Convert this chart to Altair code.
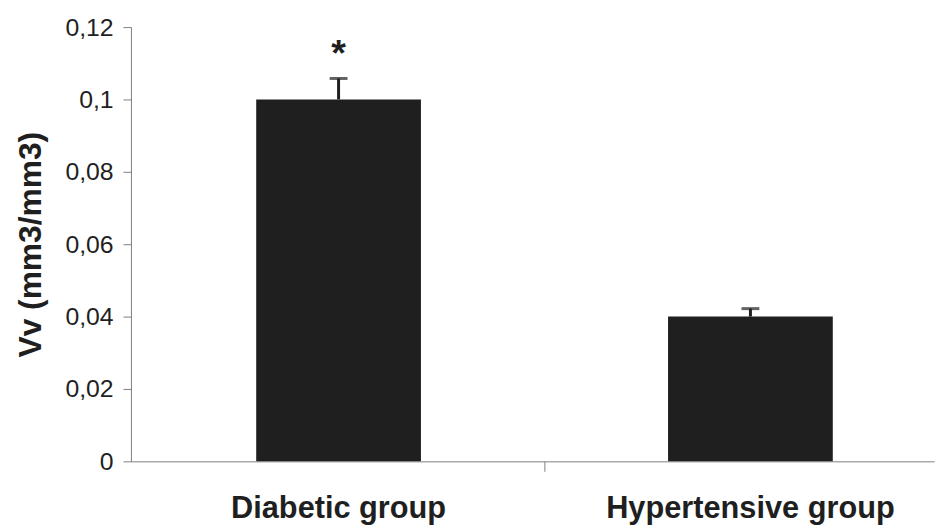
import altair as alt
import pandas as pd

groups = ["Diabetic group", "Hypertensive group"]
values = [0.100, 0.040]
errors = [0.0058, 0.0022]
marks = ["*", ""]

df = pd.DataFrame({"group": groups, "value": values, "err": errors, "sig": marks})
df["upper"] = df["value"] + df["err"]
df["zero"] = 0.0

dark = "#1f1f1f"
axis_col = "#808080"

x_scale = alt.Scale(paddingInner=0.6, paddingOuter=0.275, align=0.553)

x = alt.X(
    "group:N",
    sort=groups,
    title=None,
    scale=x_scale,
    axis=alt.Axis(
        labels=False,
        domainColor=axis_col,
        tickColor=axis_col,
        tickSize=10,
        bandPosition=1.75,
        grid=False,
    ),
)

y_scale = alt.Scale(domain=[0, 0.12], nice=False)

bars = alt.Chart(df).mark_bar(color=dark).encode(
    x=x,
    y=alt.Y(
        "value:Q",
        scale=y_scale,
        title="Vv (mm3/mm3)",
        axis=alt.Axis(
            values=[0, 0.02, 0.04, 0.06, 0.08, 0.1, 0.12],
            labelExpr="replace(format(datum.value, '~g'), '.', ',')",
            labelFont="Liberation Sans",
            labelFontSize=25,
            labelColor=dark,
            labelPadding=10,
            tickSize=8,
            tickColor=axis_col,
            domainColor=axis_col,
            grid=False,
            titleFont="Liberation Sans",
            titleFontWeight="bold",
            titleFontSize=32,
            titleColor=dark,
            titleX=-101,
            titleBaseline="middle",
        ),
    ),
)

stems = alt.Chart(df).mark_rule(color=dark, strokeWidth=3).encode(
    x=alt.X("group:N", sort=groups),
    y="value:Q",
    y2="upper:Q",
)

caps = alt.Chart(df).mark_tick(color=dark, thickness=3, size=18, orient="horizontal").encode(
    x=alt.X("group:N", sort=groups),
    y="upper:Q",
)

stars = alt.Chart(df).mark_text(
    color=dark, font="Liberation Sans", fontWeight="bold", fontSize=38, dy=-24, baseline="middle"
).encode(
    x=alt.X("group:N", sort=groups),
    y="upper:Q",
    text="sig:N",
)

cat_labels = alt.Chart(df).mark_text(
    color=dark, font="Liberation Sans", fontWeight="bold", fontSize=31, dy=57, baseline="alphabetic"
).encode(
    x=alt.X("group:N", sort=groups),
    y="zero:Q",
    text="group:N",
)

chart = (
    alt.layer(bars, stems, caps, stars, cat_labels)
    .properties(
        width=810,
        height=438,
        autosize=alt.AutoSizeParams(type="none"),
        padding={"left": 124, "top": 17, "right": 5, "bottom": 66},
        background="white",
    )
    .configure_view(stroke=None)
)

chart.save("out.html", embed_options={"renderer": "svg", "actions": False})
